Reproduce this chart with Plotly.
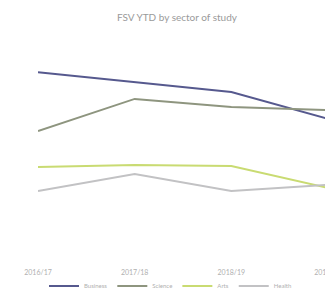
import plotly.graph_objects as go

periods = ["2016/17", "2017/18", "2018/19", "2019/20"]
series_names = ["Business", "Science", "Arts", "Health"]
business = [85.0, 80.5, 75.8, 63.3]
science = [57.7, 72.6, 68.8, 67.4]
arts = [40.9, 41.9, 41.4, 31.2]
health = [29.8, 37.7, 29.8, 32.6]
colors = ["#56598e", "#8e957f", "#c9db72", "#c2c2c4"]

fig = go.Figure()
for name, vals, col in zip(series_names, [business, science, arts, health], colors):
    fig.add_trace(go.Scatter(x=periods, y=vals, mode="lines", name=name,
                             line=dict(color=col, width=2)))

fig.update_layout(
    width=325, height=285,
    paper_bgcolor="white", plot_bgcolor="white",
    margin=dict(l=30, r=5, t=32, b=38, autoexpand=False),
    title=dict(text="FSV YTD by sector of study", x=0.52, xanchor="center",
               y=0.968, yanchor="middle",
               font=dict(family="Lato, sans-serif", size=10, color="#9a9a9a")),
    font=dict(family="Lato, sans-serif", size=7, color="#b0b0b0"),
    xaxis=dict(range=[0, 3], showgrid=False, zeroline=False, showline=False,
               automargin=False,
               ticks="", ticklabelstandoff=12, tickfont=dict(size=7, color="#b0b0b0")),
    yaxis=dict(range=[0, 100], showgrid=False, zeroline=False, showline=False,
               showticklabels=False),
    showlegend=True,
    legend=dict(orientation="h", xref="container", x=0.5, xanchor="center",
                yref="container", y=0.025, yanchor="middle",
                bgcolor="rgba(0,0,0,0)",
                itemwidth=30, font=dict(size=6, color="#b0b0b0")),
)

fig.write_html("out.html")
